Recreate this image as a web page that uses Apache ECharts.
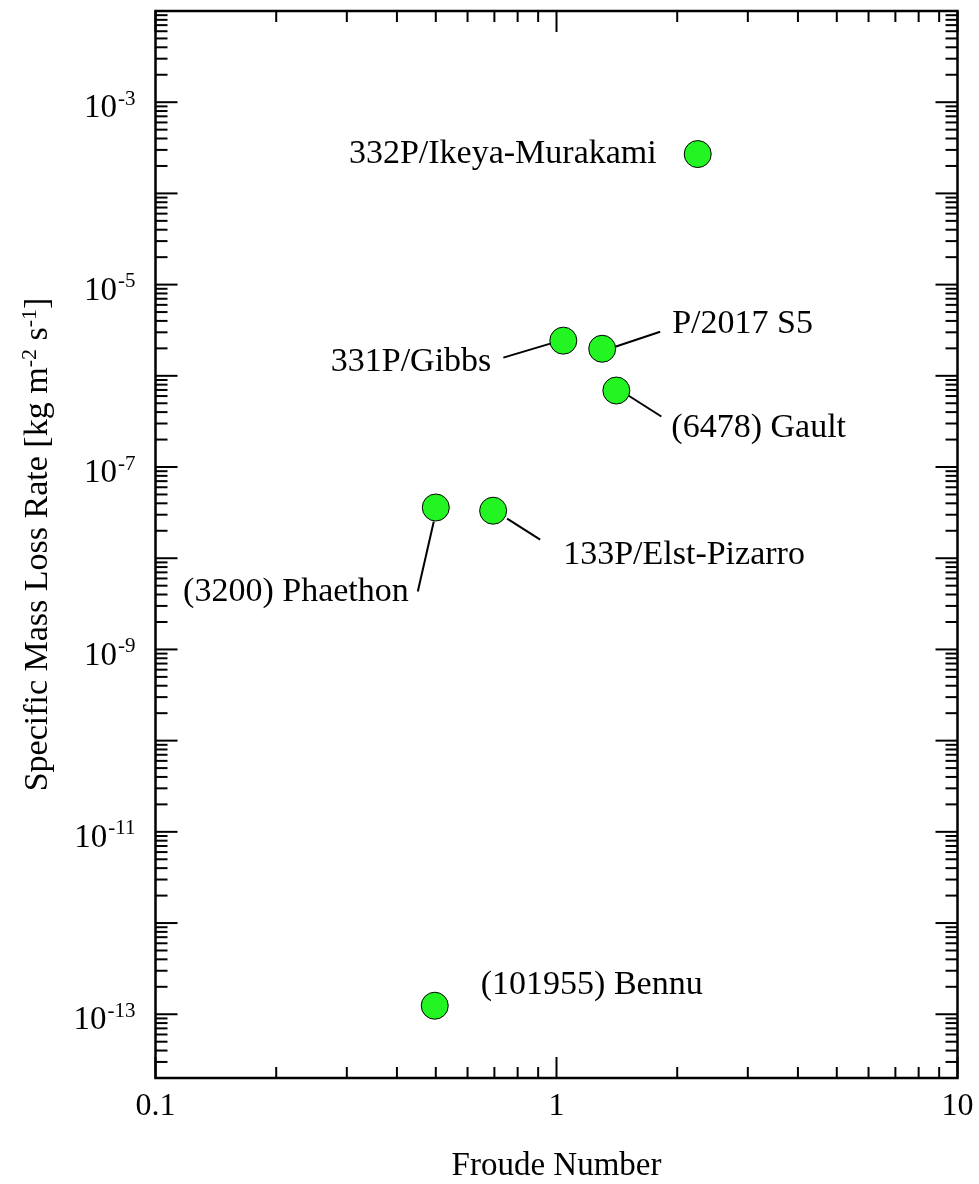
<!DOCTYPE html>
<html><head><meta charset="utf-8">
<script src="https://cdn.jsdelivr.net/npm/echarts@6/dist/echarts.min.js"></script>
<style>html,body{margin:0;padding:0;background:#fff}#c{width:979px;height:1184px}</style>
</head><body><div id="c"></div>
<script>
// ---- data ----
const names = ['332P/Ikeya-Murakami','331P/Gibbs','P/2017 S5','(6478) Gault','(3200) Phaethon','133P/Elst-Pizarro','(101955) Bennu'];
const froude = [2.25, 1.04, 1.30, 1.41, 0.50, 0.695, 0.497];
const massLoss = [2.7e-4, 2.43e-6, 1.98e-6, 6.9e-7, 3.6e-8, 3.32e-8, 1.24e-13];
const xTickLabels = [0.1, 1, 10];
const yTickLabels = [1e-13, 1e-11, 1e-9, 1e-7, 1e-5, 1e-3];
const X_MIN = 0.1, X_MAX = 10, Y_MIN = 2e-14, Y_MAX = 1e-2;

// ---- label layout (pixel offsets from marker centre; styling only) ----
const labelLayout = [
  {dx:-41, dy:0,   align:'right', line:null},
  {dx:-72, dy:21,  align:'right', line:[-13,3,-60,17]},
  {dx:70,  dy:-25, align:'left',  line:[13,-2,58,-17]},
  {dx:55,  dy:38,  align:'left',  line:[12,5,45,26]},
  {dx:-27, dy:85,  align:'right', line:[-2,14,-18,84]},
  {dx:70,  dy:44,  align:'left',  line:[14,8,47,29]},
  {dx:46,  dy:-21, align:'left',  line:null}
];

const FONT = "'Liberation Serif','Times New Roman',Times,serif";

// tick values (axis decoration)
const xMajor = [0.1, 1, 10], xMinor = [];
[0.1, 1].forEach(d => { for (let k = 2; k <= 9; k++) xMinor.push(+(k*d).toPrecision(3)); });
const yMajor = [], yMinor = [];
for (let e = -14; e <= -2; e++) {
  const d = Math.pow(10, e);
  if (d >= Y_MIN && d <= Y_MAX) yMajor.push(d);
  for (let k = 2; k <= 9; k++) { const v = k*d; if (v > Y_MIN*1.001 && v < Y_MAX) yMinor.push(v); }
}

const points = froude.map((x, i) => [x, massLoss[i]]);

const chart = echarts.init(document.getElementById('c'), null, {renderer:'canvas'});
chart.setOption({
  animation: false,
  backgroundColor: '#fff',
  grid: {left:155.5, right:21.5, top:11, bottom:106, show:true, borderColor:'#000', borderWidth:2.5, backgroundColor:'transparent', outerBoundsMode:'none', containLabel:false},
  xAxis: {
    type:'log', logBase:10, min:X_MIN, max:X_MAX,
    name:'Froude Number', nameLocation:'middle', nameGap:72,
    nameTextStyle:{fontFamily:FONT, fontSize:33, color:'#000'},
    axisLine:{show:false}, axisTick:{show:false}, splitLine:{show:false}, minorTick:{show:false},
    axisLabel:{customValues:xTickLabels, margin:13, fontFamily:FONT, fontSize:32, color:'#000', lineHeight:32,
      formatter: v => String(+Number(v).toPrecision(3))}
  },
  yAxis: {
    type:'log', logBase:10, min:Y_MIN, max:Y_MAX,
    name:'{t|Specific Mass Loss Rate [kg m}{s|-2}{t| s}{s|-1}{t|]}', nameLocation:'middle', nameGap:100,
    nameTextStyle:{rich:{
      t:{fontFamily:FONT, fontSize:34, color:'#000', lineHeight:34},
      s:{fontFamily:FONT, fontSize:22, color:'#000', lineHeight:22, padding:[0,0,16,0]}
    }},
    axisLine:{show:false}, axisTick:{show:false}, splitLine:{show:false}, minorTick:{show:false},
    axisLabel:{customValues:yTickLabels, margin:20,
      formatter: v => '{b|10}{s|' + Math.round(Math.log10(v)) + '}',
      rich:{
        b:{fontFamily:FONT, fontSize:33, color:'#000', lineHeight:33, padding:[13,0,0,0]},
        s:{fontFamily:FONT, fontSize:21, color:'#000', lineHeight:21, padding:[0,0,6,1]}
      }}
  },
  series: [
    {
      type:'custom', name:'ticks', silent:true, z:3,
      data:[[1, 1e-7]],
      renderItem(params, api) {
        const cs = params.coordSys;
        const L = cs.x, R = cs.x + cs.width, T = cs.y, B = cs.y + cs.height;
        const ch = [];
        const tick = (x1,y1,x2,y2) => ch.push({type:'line', shape:{x1,y1,x2,y2}, style:{stroke:'#000', lineWidth:2}});
        xMinor.forEach(v => { const p = api.coord([v, 1e-7])[0]; tick(p,B,p,B-11); tick(p,T,p,T+11); });
        xMajor.forEach(v => { const p = api.coord([v, 1e-7])[0]; tick(p,B,p,B-21); tick(p,T,p,T+21); });
        yMinor.forEach(v => { const p = api.coord([1, v])[1]; tick(L,p,L+12,p); tick(R,p,R-12,p); });
        yMajor.forEach(v => { const p = api.coord([1, v])[1]; tick(L,p,L+22,p); tick(R,p,R-22,p); });
        return {type:'group', children:ch};
      }
    },
    {
      type:'custom', name:'labels', silent:true, z:4,
      data: points,
      renderItem(params, api) {
        const p = api.coord([api.value(0), api.value(1)]);
        const lay = labelLayout[params.dataIndex];
        const ch = [];
        if (lay.line) ch.push({type:'line', shape:{x1:p[0]+lay.line[0], y1:p[1]+lay.line[1], x2:p[0]+lay.line[2], y2:p[1]+lay.line[3]}, style:{stroke:'#000', lineWidth:2}});
        ch.push({type:'text', x:p[0]+lay.dx, y:p[1]+lay.dy, style:{text:names[params.dataIndex], fill:'#000', fontFamily:FONT, fontSize:34, align:lay.align, verticalAlign:'middle'}});
        return {type:'group', children:ch};
      }
    },
    {
      type:'scatter', name:'objects', z:5,
      data: points,
      symbol:'circle', symbolSize:27,
      itemStyle:{color:'#22f522', borderColor:'#000', borderWidth:1, opacity:1}
    }
  ]
});
</script>
</body></html>
